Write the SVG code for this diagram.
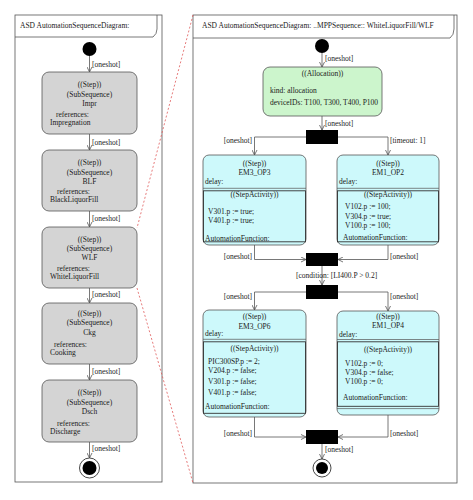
<svg xmlns="http://www.w3.org/2000/svg" width="473" height="500" viewBox="0 0 473 500">
<defs>
<marker id="arr" markerUnits="userSpaceOnUse" markerWidth="6" markerHeight="6" refX="5" refY="3" orient="auto">
<path d="M0,0.5 L5,3 L0,5.5" fill="none" stroke="#555" stroke-width="0.8"/>
</marker>
<style>
text{font-family:"Liberation Serif","Times New Roman",serif;font-size:7.5px;fill:#1a1a1a}
.c{text-anchor:middle}
.e{text-anchor:end}
.frame{fill:#fff;stroke:#555;stroke-width:0.8}
.sub{fill:#d4d4d4;stroke:#555;stroke-width:0.8}
.step{fill:#cdf9fb;stroke:#555;stroke-width:0.8}
.alloc{fill:#ccf5cc;stroke:#555;stroke-width:0.8}
.inner{fill:none;stroke:#333;stroke-width:0.9}
.sep{stroke:#555;stroke-width:0.7}
.con{fill:none;stroke:#555;stroke-width:0.8;marker-end:url(#arr)}
.bar{fill:#000}
.red{fill:none;stroke:#e05a5a;stroke-width:0.8;stroke-dasharray:2,2}
</style>
</defs>
<rect width="473" height="500" fill="#fff"/>

<g id="frameLeft">
<rect class="frame" x="15" y="15" width="147" height="467"/>
<path d="M15,37 L153,37 Q157,34 157,29 L157,15" fill="none" stroke="#555" stroke-width="0.8"/>
<text x="20" y="27.5">ASD AutomationSequenceDiagram:</text>
</g>

<g id="frameRight">
<rect class="frame" x="193" y="15" width="264" height="468"/>
<path d="M193,38 L450,38 Q454,35 454,29 L454,15" fill="none" stroke="#555" stroke-width="0.8"/>
<text x="202" y="27.5">ASD AutomationSequenceDiagram: ..MPPSequence:: WhiteLiquorFill/WLF</text>
</g>

<g id="connectors">
<line class="con" x1="89.5" y1="56" x2="89.5" y2="72"/>
<line class="con" x1="89.5" y1="134" x2="89.5" y2="150"/>
<line class="con" x1="89.5" y1="211" x2="89.5" y2="227"/>
<line class="con" x1="89.5" y1="288" x2="89.5" y2="303"/>
<line class="con" x1="89.5" y1="364" x2="89.5" y2="380"/>
<line class="con" x1="89.5" y1="442" x2="89.5" y2="458"/>
<text x="92" y="66.5">[oneshot]</text>
<text x="92" y="144.5">[oneshot]</text>
<text x="92" y="221">[oneshot]</text>
<text x="92" y="297">[oneshot]</text>
<text x="92" y="374">[oneshot]</text>
<text x="92" y="451">[oneshot]</text>

<line class="con" x1="322" y1="53" x2="322" y2="67"/>
<text x="325" y="60.5">[oneshot]</text>
<line class="con" x1="322" y1="116" x2="322" y2="130"/>
<text x="325" y="125.5">[oneshot]</text>
<path class="con" d="M306,137 H254.5 V155"/>
<text class="e" x="252" y="142.5">[oneshot]</text>
<path class="con" d="M338,137 H388 V155"/>
<text x="390" y="142.5">[timeout: 1]</text>
<path class="con" d="M254.5,245 V259.5 H306"/>
<text class="e" x="252" y="258.5">[oneshot]</text>
<path class="con" d="M388,245 V259.5 H338"/>
<text x="390" y="258.5">[oneshot]</text>
<line class="con" x1="322" y1="266" x2="322" y2="285"/>
<text x="296" y="277.5">[condition: [LI400.P &gt; 0.2]</text>
<path class="con" d="M306,292 H254.5 V310"/>
<text class="e" x="252" y="298.5">[oneshot]</text>
<path class="con" d="M338,292 H388 V311"/>
<text x="390" y="298.5">[oneshot]</text>
<path class="con" d="M254.5,417 V437 H306"/>
<text class="e" x="252" y="435.5">[oneshot]</text>
<path class="con" d="M388,415 V437 H338"/>
<text x="390" y="435.5">[oneshot]</text>
<line class="con" x1="322" y1="444" x2="322" y2="459"/>
<text x="325" y="451.5">[oneshot]</text>

<path class="red" d="M193,15 L137,228"/>
<path class="red" d="M137,288 L193,483"/>
</g>

<g id="initialLeft"><circle cx="89.5" cy="49" r="7" fill="#000"/></g>

<g id="Impr">
<rect class="sub" x="42" y="72" width="95" height="62" rx="7"/>
<text class="c" x="89.5" y="87">((Step))</text>
<text class="c" x="89.5" y="96.5">(SubSequence)</text>
<text class="c" x="89.5" y="105.5">Impr</text>
<text x="56" y="116.5">references:</text>
<text x="50" y="124.5">Impregnation</text>
</g>
<g id="BLF">
<rect class="sub" x="42" y="150" width="95" height="61" rx="7"/>
<text class="c" x="89.5" y="165">((Step))</text>
<text class="c" x="89.5" y="174.5">(SubSequence)</text>
<text class="c" x="89.5" y="183.5">BLF</text>
<text x="57" y="193.5">references:</text>
<text x="50" y="202">BlackLiquorFill</text>
</g>
<g id="WLF">
<rect class="sub" x="42" y="227" width="95" height="61" rx="7"/>
<text class="c" x="89.5" y="241.5">((Step))</text>
<text class="c" x="89.5" y="250.5">(SubSequence)</text>
<text class="c" x="89.5" y="260">WLF</text>
<text x="57" y="270.5">references:</text>
<text x="50" y="279">WhiteLiquorFill</text>
</g>
<g id="Ckg">
<rect class="sub" x="42" y="303" width="95" height="61" rx="7"/>
<text class="c" x="89.5" y="316">((Step))</text>
<text class="c" x="89.5" y="325">(SubSequence)</text>
<text class="c" x="89.5" y="334.5">Ckg</text>
<text x="54" y="346.5">references:</text>
<text x="50" y="354.5">Cooking</text>
</g>
<g id="Dsch">
<rect class="sub" x="42" y="380" width="95" height="62" rx="7"/>
<text class="c" x="89.5" y="394.5">((Step))</text>
<text class="c" x="89.5" y="404.5">(SubSequence)</text>
<text class="c" x="89.5" y="413.5">Dsch</text>
<text x="57" y="425.5">references:</text>
<text x="50" y="433.5">Discharge</text>
</g>
<g id="finalLeft">
<circle cx="89.5" cy="468" r="10" fill="#fff" stroke="#333" stroke-width="0.9"/>
<circle cx="89.5" cy="468" r="7" fill="#000"/>
</g>

<g id="initialRight"><circle cx="322" cy="46" r="7" fill="#000"/></g>

<g id="Allocation">
<rect class="alloc" x="263" y="67" width="119" height="49" rx="7"/>
<text class="c" x="322.5" y="75.5">((Allocation))</text>
<text x="270" y="92.5">kind: allocation</text>
<text x="270" y="105">deviceIDs: T100, T300, T400, P100</text>
</g>

<g id="fork1"><rect class="bar" x="306" y="130" width="32" height="14"/></g>

<g id="EM3_OP3">
<rect class="step" x="203" y="155" width="103" height="90" rx="6"/>
<text class="c" x="254.5" y="165.5">((Step))</text>
<text class="c" x="254.5" y="174.5">EM3_OP3</text>
<text x="205" y="184">delay:</text>
<line class="sep" x1="203" y1="188.3" x2="306" y2="188.3"/>
<rect class="inner" x="203.5" y="190.8" width="102" height="51"/>
<text class="c" x="254.5" y="197">((StepActivity))</text>
<text x="208" y="214">V301.p := true;</text>
<text x="208" y="222.5">V401.p := true;</text>
<text x="205" y="241">AutomationFunction:</text>
</g>

<g id="EM1_OP2">
<rect class="step" x="337" y="155" width="102" height="90" rx="6"/>
<text class="c" x="388" y="165.5">((Step))</text>
<text class="c" x="388" y="174.5">EM1_OP2</text>
<text x="339" y="184">delay:</text>
<line class="sep" x1="337" y1="188.3" x2="439" y2="188.3"/>
<rect class="inner" x="337.5" y="190.8" width="101" height="51"/>
<text class="c" x="388" y="197">((StepActivity))</text>
<text x="345" y="209">V102.p := 100;</text>
<text x="345" y="219">V304.p := true;</text>
<text x="345" y="227.5">V100.p := 100;</text>
<text x="343" y="240">AutomationFunction:</text>
</g>

<g id="join1"><rect class="bar" x="306" y="253" width="32" height="13"/></g>
<g id="fork2"><rect class="bar" x="306" y="285" width="32" height="14"/></g>

<g id="EM3_OP6">
<rect class="step" x="203" y="310" width="103" height="107" rx="6"/>
<text class="c" x="254.5" y="319">((Step))</text>
<text class="c" x="254.5" y="328.5">EM3_OP6</text>
<text x="205" y="335.5">delay:</text>
<line class="sep" x1="203" y1="339.3" x2="306" y2="339.3"/>
<rect class="inner" x="203.5" y="341.8" width="102" height="71.5"/>
<text class="c" x="254.5" y="350.5">((StepActivity))</text>
<text x="208" y="364">PIC300SP.p := 2;</text>
<text x="208" y="373">V204.p := false;</text>
<text x="208" y="384">V301.p := false;</text>
<text x="208" y="395">V401.p := false;</text>
<text x="205" y="409">AutomationFunction:</text>
</g>

<g id="EM1_OP4">
<rect class="step" x="337" y="311" width="102" height="104" rx="6"/>
<text class="c" x="388" y="319">((Step))</text>
<text class="c" x="388" y="328">EM1_OP4</text>
<text x="339" y="336.5">delay:</text>
<line class="sep" x1="337" y1="339.5" x2="439" y2="339.5"/>
<rect class="inner" x="337.5" y="341.8" width="101" height="64.5"/>
<line class="sep" x1="337" y1="408.6" x2="439" y2="408.6"/>
<text class="c" x="388" y="351.5">((StepActivity))</text>
<text x="345" y="365.5">V102.p := 0;</text>
<text x="345" y="374.5">V304.p := false;</text>
<text x="345" y="383.5">V100.p := 0;</text>
<text x="343" y="399.5">AutomationFunction:</text>
</g>

<g id="join2"><rect class="bar" x="306" y="430" width="32" height="14"/></g>

<g id="finalRight">
<circle cx="322" cy="468" r="9" fill="#fff" stroke="#333" stroke-width="0.9"/>
<circle cx="322" cy="468" r="6" fill="#000"/>
</g>
</svg>
